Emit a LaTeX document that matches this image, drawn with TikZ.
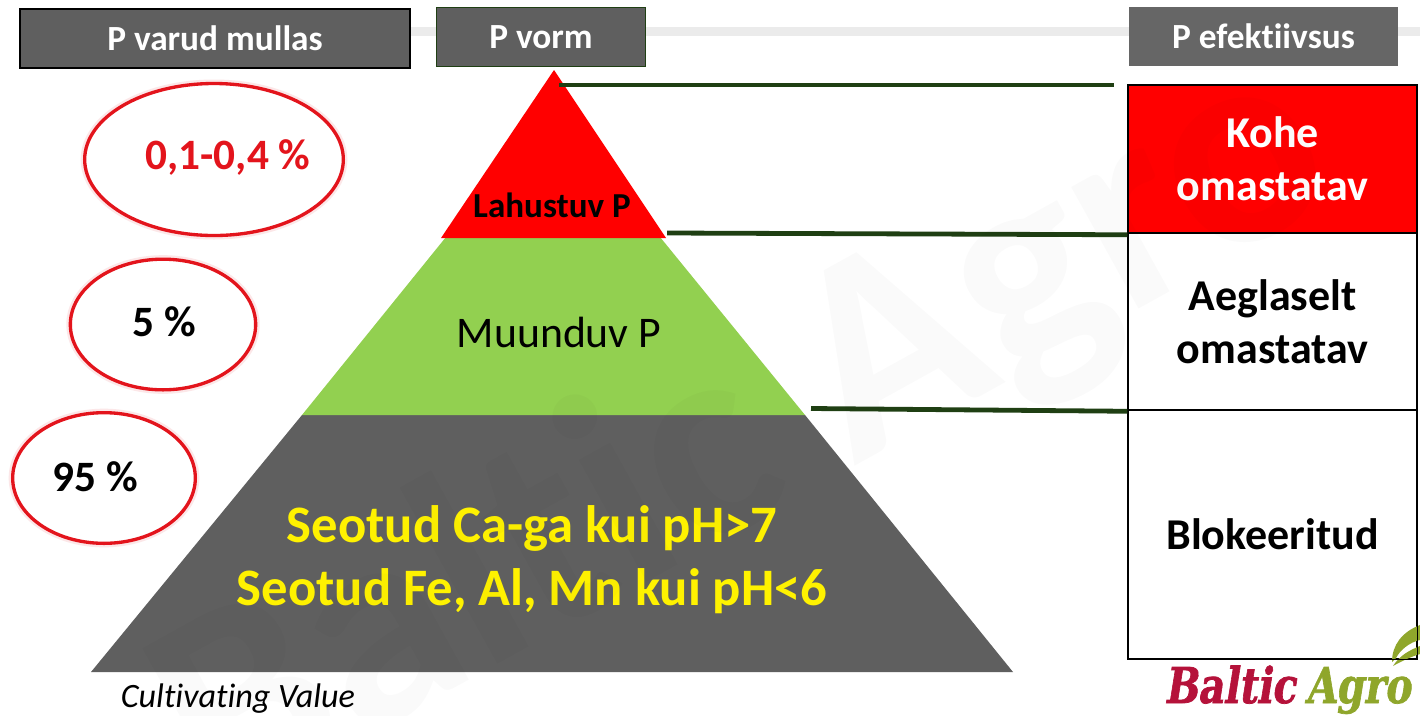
\documentclass[tikz,border=0pt]{standalone}
\usepackage{fontspec}
\setmainfont{Carlito}[Ligatures=NoCommon]
\newfontfamily\logofont{DejaVu Serif}[UprightFont=* Bold,FakeSlant=0.2,FakeBold=1.5]
\usetikzlibrary{shapes.geometric}
\definecolor{boxgray}{HTML}{5F5F5F}
\definecolor{boxgrayb}{HTML}{666666}
\definecolor{pyrred}{HTML}{FF0000}
\definecolor{pyrgreen}{HTML}{92D050}
\definecolor{linegreen}{HTML}{1F3F13}
\definecolor{bandgray}{HTML}{EBEBEB}
\definecolor{ringred}{HTML}{E3141C}
\definecolor{logored}{HTML}{B5123A}
\definecolor{logogreen}{HTML}{8FA62B}
\newcommand{\fs}[1]{\fontsize{#1}{#1}\selectfont}
\tikzset{
 headbox/.style={draw,line width=1.1pt,fill=boxgray,text=white,font=\fs{26.5}\bfseries,inner sep=0pt,minimum height=44.5pt},
 cellbox/.style={draw=black,line width=1.1pt,inner sep=0pt,minimum width=216.75pt,align=center,font=\fontsize{33}{40}\selectfont\bfseries},
 ring/.style={draw=ringred,line width=2.5pt,ellipse,inner sep=0pt,fill=white},
 ringhalo/.style={draw=ringred!10,line width=4pt,ellipse,inner sep=0pt},
 ringtext/.style={font=\fs{32.5}\bfseries,inner sep=0pt,anchor=center},
 link/.style={draw=linegreen,line width=3.6pt},
 logotext/.style={font=\fs{37}\logofont,inner sep=0pt,anchor=base,xscale=0.8,transform shape},
}
\begin{document}
\begin{tikzpicture}[x=0.75pt,y=-0.75pt]
\useasboundingbox (0,0) rectangle (1420,715);
\fill[white] (0,0) rectangle (1420,715);
% background band
\coordinate (bandL) at (410,31.5);
\coordinate (bandR) at (1420,31.5);
\draw[bandgray,line width=6.6pt] (bandL) -- (bandR);
% headers
\node[headbox,minimum width=292.5pt] (hA) at (215,38.5) {P varud mullas};
\node[headbox,draw=linegreen,minimum width=157pt] (hB) at (541,37) {P vorm};
\node[headbox,draw=none,fill=boxgrayb,minimum width=201.75pt] (hC) at (1263.5,36.5) {P efektiivsus};
% pyramid
\fill[boxgray] (302,415) -- (805,415) -- (1013,672) -- (91,672) -- cycle;
\fill[pyrgreen] (446,237) -- (660,237) -- (805,415) -- (302,415) -- cycle;
\fill[pyrred] (554,70) -- (666,238) -- (441,238) -- cycle;
\node[font=\fs{26.3}\bfseries,inner sep=0pt] (lahus) at (552,205) {Lahustuv P};
\node[font=\fs{32.8},inner sep=0pt] (muund) at (559,332) {Muunduv P};
\node[font=\fontsize{39.5}{47.5}\selectfont\bfseries,text=yellow,align=center,inner sep=0pt] (seot) at (532,559.5) {Seotud Ca-ga kui pH>7\\Seotud Fe, Al, Mn kui pH<6};
% column
\node[cellbox,fill=pyrred,text=white,minimum height=111pt] (cA) at (1272.5,159) {Kohe\\omastatav};
\node[cellbox,fill=white,minimum height=132.75pt] (cB) at (1272.5,322) {Aeglaselt\\omastatav};
\node[cellbox,fill=white,minimum height=186.75pt] (cC) at (1272.5,534.5) {Blokeeritud};
% logo
\begin{scope}
\clip (1100,615) rectangle (1420,715);
\fill[logogreen] (1392,662) .. controls (1392,645) and (1402,632) .. (1420,625) -- (1420,640) .. controls (1410,642) and (1400,650) .. (1396,658) -- cycle;
\fill[logogreen] (1393,666) .. controls (1400,655) and (1410,650) .. (1420,646) -- (1420,654) .. controls (1410,657) and (1400,662) .. (1393,666) -- cycle;
\node[logotext,text=logored] (lgA) at (1230,703) {Baltic};
\node[logotext,text=logogreen] (lgB) at (1358,703) {Agro};
\end{scope}
\draw[line width=1.1pt] (cC.south west) -- (cC.south east) -- (cC.north east);
% connectors
\coordinate (s1) at (559,85);
\coordinate (e1) at (1114,85);
\coordinate (s2) at (667,233);
\coordinate (s3) at (811,408.5);
\draw[link] (s1) -- (e1);
\draw[link] (s2) -- ([yshift=-1.5pt]cB.north west);
\draw[link] (s3) -- ([yshift=-1.5pt]cC.north west);
% ellipses
\node[ringhalo,minimum width=196pt,minimum height=116pt] at (214,159.5) {};
\node[ring,minimum width=194pt,minimum height=114pt] (eA) at (214,159.5) {};
\node[ringhalo,minimum width=141pt,minimum height=100pt] at (163,324.5) {};
\node[ring,minimum width=139pt,minimum height=98pt] (eB) at (163,324.5) {};
\node[ringhalo,minimum width=139pt,minimum height=100pt] at (104,478) {};
\node[ring,minimum width=137pt,minimum height=98pt] (eC) at (104,478) {};
\node[ringtext,text=ringred] (tA) at (228,157) {0,1-0,4 \%};
\node[ringtext] (tB) at (164,322) {5 \%};
\node[ringtext] (tC) at (95,477) {95 \%};
% footer
\node[font=\fs{25.6}\itshape,inner sep=0pt,anchor=base] (cv) at (238,707) {Cultivating Value};
% watermark
\node[font=\fs{215}\bfseries,text=black,text opacity=0.02,rotate=29,inner sep=0pt] (wm) at (745,440) {Baltic Agro};
\end{tikzpicture}
\end{document}
